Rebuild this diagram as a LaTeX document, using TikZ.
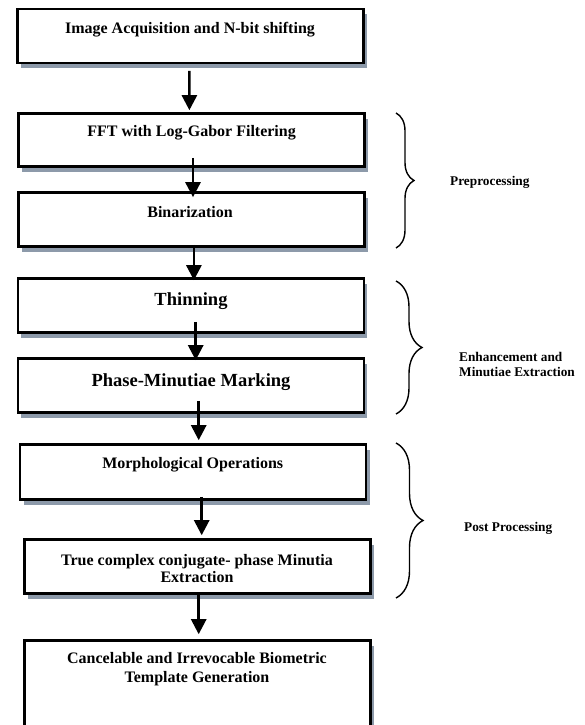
\documentclass[tikz,border=0pt]{standalone}
\usepackage{fontspec}
\setmainfont{Liberation Serif}
\usetikzlibrary{arrows.meta,shadows,decorations.pathreplacing}
\definecolor{shadowgray}{RGB}{141,154,170}

\begin{document}
\begin{tikzpicture}[x=1pt,y=-1pt,
	stage/.style={draw,line width=2.6pt,fill=white,minimum width=346pt,
		drop shadow={shadow xshift=3.5pt,shadow yshift=-5pt,fill=shadowgray,opacity=1}},
	caption/.style={font=\bfseries\fontsize{16}{17.5}\selectfont,align=center,inner sep=0pt},
	bigcaption/.style={font=\bfseries\fontsize{18.5}{20}\selectfont,align=center,inner sep=0pt},
	note/.style={font=\bfseries\fontsize{13.3}{15}\selectfont,align=left,anchor=west,inner sep=0pt},
	flow/.style={line width=2.6pt,-{Triangle[length=15pt,width=15pt]}},
	curly/.style={decorate,decoration={brace,amplitude=#1},line width=1.4pt}]
			\useasboundingbox (0,0) rectangle (584,725);

			% stages
			\node[stage,minimum height=54pt] (acq) at (190.5,36) {};
			\node[stage,minimum height=53pt] (fft) at (191.6,140) {};
			\node[stage,minimum height=54pt] (bin) at (191.3,219.5) {};
			\node[stage,minimum height=54pt] (thin) at (190.8,305.5) {};
			\node[stage,minimum height=54pt] (mark) at (190.8,385.5) {};
			\node[stage,minimum height=55pt] (morph) at (193,472) {};
			\node[stage,minimum height=54pt] (conj) at (197.4,566.5) {};
			\node[stage,minimum height=88.5pt] (tmpl) at (197.4,684.75) {};

			\node[caption] (acq_t) at (190,30) {Image Acquisition and N-bit shifting};
			\node[caption] (fft_t) at (191.6,133) {FFT with Log-Gabor Filtering};
			\node[caption] (bin_t) at (190,212) {Binarization};
			\node[bigcaption] (thin_t) at (191,301) {Thinning};
			\node[bigcaption] (mark_t) at (191,382) {Phase-Minutiae Marking};
			\node[caption] (morph_t) at (192.7,465) {Morphological Operations};
			\node[caption] (conj_t) at (197,568.6) {True complex conjugate- phase Minutia\\Extraction};
			\node[caption,font=\bfseries\fontsize{16}{19}\selectfont] (tmpl_t) at (197,669.5) {Cancelable and Irrevocable Biometric\\Template Generation};

			% arrows between stages
			\draw[flow] ([xshift=-1.1pt,yshift=-6.5pt]acq.south) -- ([xshift=-2.2pt,yshift=2pt]fft.north);
			\draw[flow] ([xshift=1.4pt,yshift=10pt]fft.south) -- ([xshift=1.7pt,yshift=-6pt]bin.north);
			\draw[flow] ([xshift=2.6pt,yshift=3pt]bin.south) -- ([xshift=3.1pt,yshift=-3pt]thin.north);
			\draw[flow] ([xshift=4.9pt,yshift=12pt]thin.south) -- ([xshift=4.9pt,yshift=-3pt]mark.north);
			\draw[flow] ([xshift=7.9pt,yshift=13pt]mark.south) -- ([xshift=5.7pt,yshift=3pt]morph.north);
			\draw[flow] ([xshift=8.7pt,yshift=4pt]morph.south) -- ([xshift=4.3pt,yshift=3pt]conj.north);
			\draw[flow] ([xshift=1.3pt]conj.south) -- ([xshift=1.3pt,yshift=5pt]tmpl.north);

			% groups
			\coordinate (pre_top) at (396,113);
			\coordinate (pre_bot) at (396,248);
			\coordinate (enh_top) at (396,281);
			\coordinate (enh_bot) at (396,414);
			\coordinate (post_top) at (396,443);
			\coordinate (post_bot) at (396,598);
			\draw[curly=18] (pre_top) -- (pre_bot);
			\draw[curly=26] (enh_top) -- (enh_bot);
			\draw[curly=27] (post_top) -- (post_bot);

			\node[note] (pre) at (450,182) {Preprocessing};
			\node[note] (enh) at (459,364.5) {Enhancement and\\Minutiae Extraction};
			\node[note] (post) at (464,528) {Post Processing};
		\end{tikzpicture}
\end{document}
